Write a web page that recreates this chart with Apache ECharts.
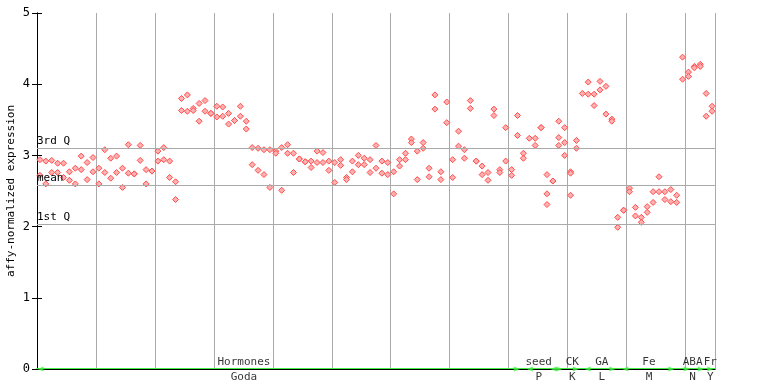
<!DOCTYPE html>
<html><head><meta charset="utf-8">
<script src="https://cdn.jsdelivr.net/npm/echarts@6/dist/echarts.min.js"></script>
<style>html,body{margin:0;padding:0;background:#fff}#c{width:768px;height:384px}</style>
</head><body><div id="c"></div>
<script>
// replicate values per sample column (index 0..114)
const rep1 = [2.94,2.92,2.93,2.89,2.89,2.77,2.82,2.99,2.90,2.97,
  2.82,3.08,2.96,2.99,2.82,3.15,2.74,3.14,2.80,2.78,
  3.06,3.11,2.92,2.63,3.80,3.85,3.66,3.73,3.77,3.59,
  3.69,3.68,3.59,3.49,3.69,3.48,3.11,3.10,3.08,3.08,
  3.06,3.11,3.15,3.03,2.95,2.91,2.92,3.06,3.04,2.92,
  2.90,2.94,2.69,2.92,3.00,2.96,2.94,3.14,2.92,2.90,
  2.77,2.94,3.03,3.23,3.06,3.18,2.82,3.85,2.77,3.75,
  2.94,3.34,3.08,3.77,2.92,2.85,2.76,3.65,2.80,3.39,
  2.80,3.56,3.03,3.24,3.24,3.39,2.73,2.64,3.48,3.39,
  2.77,3.21,3.87,4.03,3.86,4.04,3.97,3.51,2.13,2.23,
  2.54,2.27,2.13,2.28,2.49,2.70,2.49,2.52,2.44,4.38,
  4.17,4.25,4.28,3.87,3.69];
const rep2 = [2.72,2.60,2.76,2.76,2.69,2.65,2.60,2.80,2.66,2.77,
  2.60,2.76,2.68,2.76,2.55,2.75,2.74,2.93,2.60,2.78,
  2.92,2.94,2.69,2.38,3.63,3.62,3.63,3.48,3.62,3.59,
  3.54,3.55,3.44,3.49,3.55,3.37,2.87,2.79,2.73,2.55,
  3.03,2.51,3.03,2.76,2.95,2.91,2.83,2.90,2.90,2.79,
  2.62,2.86,2.66,2.77,2.87,2.87,2.76,2.82,2.75,2.73,
  2.46,2.85,2.94,3.18,2.66,3.10,2.70,3.65,2.66,3.46,
  2.69,3.13,2.96,3.66,2.92,2.73,2.65,3.56,2.76,2.92,
  2.72,3.28,2.96,null,3.14,3.39,2.46,2.64,3.25,3.18,
  2.75,3.10,null,3.86,3.70,3.92,3.58,3.48,1.99,2.23,
  2.49,2.15,2.06,2.20,2.34,2.49,2.38,2.35,2.34,4.07,
  4.11,4.23,4.25,3.55,3.62];
const extraIdx = [86,88,89,90];
const extraVal = [2.31,3.14,3.00,2.44];

const nSamples = 115;
const quartNames = ['3rd Q','mean','1st Q'];
const quartVals = [3.099,2.577,2.028];
const groupTop = ['Hormones','seed','CK','GA','Fe','ABA','Fr'];
const groupBottom = ['Goda','P','K','L','M','N','Y'];
const groupCenter = [35.1,85.1,90.8,95.8,103.8,111.2,114.2];
// green range arrows along the baseline: [position, direction]
const arrowPos = [0.6,81.4,83.6,87.6,88.6,91.4,93.4,97.6,99.8,107.6,110.2,112.6,114.2];
const arrowDir = [-1,1,-1,-1,1,1,-1,1,-1,1,1,1,1];
const yTicks = [0,1,2,3,4,5];

const pts = [];
rep1.forEach((v,i)=>{ if(v!=null) pts.push([i+0.5,v]); });
rep2.forEach((v,i)=>{ if(v!=null) pts.push([i+0.5,v]); });
extraIdx.forEach((i,k)=>pts.push([i+0.5,extraVal[k]]));

const mono = 'DejaVu Sans Mono';
const chart = echarts.init(document.getElementById('c'));
chart.setOption({
  animation:false,
  backgroundColor:'#fff',
  grid:{left:37,right:53,top:13,bottom:15,containLabel:false,outerBoundsMode:'none'},
  xAxis:[{type:'value',min:0,max:nSamples,interval:10,
    axisLine:{show:true,lineStyle:{color:'#44ee44',width:2}},
    axisTick:{show:false},axisLabel:{show:false},
    splitLine:{show:true,lineStyle:{color:'#aaaaaa',width:1}}},
   {type:'value',position:'top',min:0,max:nSamples,
    axisLine:{show:true,lineStyle:{color:'#000',width:1}},
    axisTick:{show:false},axisLabel:{show:false},splitLine:{show:false}}],
  yAxis:[{type:'value',min:0,max:5,interval:1,
    name:'affy-normalized expression',nameLocation:'middle',nameGap:20,nameMoveOverlap:false,
    nameTextStyle:{fontFamily:mono,fontSize:11,color:'#000'},
    axisLine:{show:true,lineStyle:{color:'#000'}},
    axisTick:{show:true,inside:true,length:5,lineStyle:{color:'#000'}},
    axisLabel:{fontFamily:mono,fontSize:12,color:'#000',margin:7,
      formatter:v=>yTicks.includes(v)?String(v):''},
    splitLine:{show:false}},
   {type:'value',position:'right',min:0,max:5,interval:1,
    axisLine:{show:true,lineStyle:{color:'#000'}},
    axisTick:{show:true,inside:true,length:5,lineStyle:{color:'#000'}},
    axisLabel:{show:false},splitLine:{show:false}}],
  series:[
   {type:'scatter',data:pts,symbol:'diamond',symbolSize:6,
    itemStyle:{color:'#ffb0b0',borderColor:'#ff4d4d',borderWidth:1,opacity:1},
    markLine:{silent:true,symbol:'none',
      lineStyle:{color:'#aaaaaa',width:1,type:'solid'},
      label:{show:true,position:'insideStartTop',formatter:'{b}',distance:[0,2],
        fontFamily:mono,fontSize:11,color:'#000'},
      data:quartNames.map((n,k)=>({name:n,yAxis:quartVals[k]}))}},
   {type:'scatter',data:arrowPos.map((p,k)=>({value:[p,0],symbolRotate:arrowDir[k]>0?-90:90})),
    symbol:'triangle',symbolSize:[5,6],clip:false,silent:true,
    itemStyle:{color:'#44ee44'}},
   {type:'scatter',data:groupCenter.map((c,k)=>({value:[c,0],name:groupTop[k]})),
    symbol:'circle',symbolSize:1,clip:false,silent:true,itemStyle:{color:'rgba(0,0,0,0)'},
    labelLayout:{hideOverlap:false},
    label:{show:true,position:'top',distance:1,formatter:'{b}',fontFamily:mono,fontSize:11,color:'#000'}},
   {type:'scatter',data:groupCenter.map((c,k)=>({value:[c,0],name:groupBottom[k]})),
    symbol:'circle',symbolSize:1,clip:false,silent:true,itemStyle:{color:'rgba(0,0,0,0)'},
    labelLayout:{hideOverlap:false},
    label:{show:true,position:'bottom',distance:2,formatter:'{b}',fontFamily:mono,fontSize:11,color:'#000'}}
  ]
});
</script></body></html>
